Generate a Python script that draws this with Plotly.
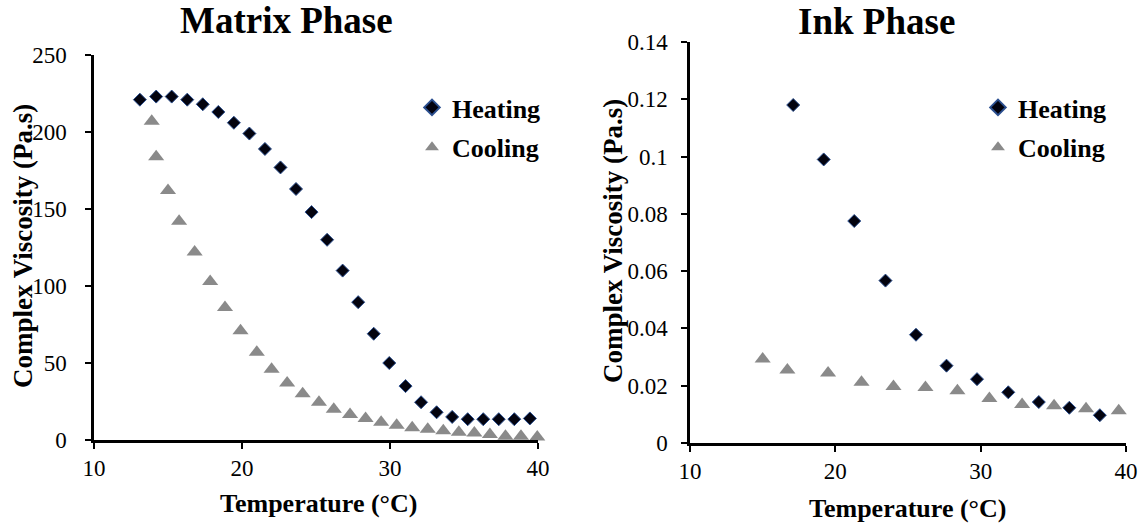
import plotly.graph_objects as go

# ---------------- data ----------------
matrix_heat_T = [13.1, 14.2, 15.25, 16.3, 17.35, 18.4, 19.45, 20.5, 21.55, 22.6, 23.65, 24.7, 25.75,
                 26.8, 27.85, 28.9, 29.95, 31.05, 32.1, 33.15, 34.2, 35.25, 36.3, 37.35, 38.4, 39.45]
matrix_heat_V = [221, 223, 223, 221, 218, 213, 206, 199, 189, 177, 163, 148, 130,
                 110, 89.5, 69, 50, 35, 24.5, 18, 15, 13.5, 13.5, 13.5, 13.5, 14]

matrix_cool_T = [13.9, 14.2, 15.0, 15.75, 16.8, 17.85, 18.85, 19.9, 21.0, 22.0, 23.05, 24.1, 25.2, 26.2,
                 27.3, 28.35, 29.4, 30.45, 31.5, 32.55, 33.6, 34.65, 35.7, 36.75, 37.8, 38.85, 39.95]
matrix_cool_V = [207, 184, 162, 142, 122, 103, 86, 71, 57, 46, 37, 30, 24.5, 20,
                 16.5, 14, 11.5, 9.5, 8, 7, 6, 5, 4.5, 3.5, 2.5, 2.5, 2]

ink_heat_T = [17.1, 19.2, 21.3, 23.45, 25.55, 27.65, 29.75, 31.9, 34.0, 36.1, 38.2]
ink_heat_V = [0.118, 0.099, 0.0775, 0.0567, 0.0378, 0.027, 0.0223, 0.0177, 0.0143, 0.0123, 0.0097]

ink_cool_T = [15.0, 16.7, 19.5, 21.8, 24.0, 26.2, 28.4, 30.6, 32.85, 35.05, 37.25, 39.5]
ink_cool_V = [0.0293, 0.0255, 0.0244, 0.0212, 0.0197, 0.0194, 0.0182, 0.0155, 0.0134, 0.013, 0.012, 0.0113]

series_names = ["Heating", "Cooling"]
titles = ["Matrix Phase", "Ink Phase"]
x_title = "Temperature (°C)"
y_title = "Complex Viscosity (Pa.s)"

# ---------------- style ----------------
FONT = "Liberation Serif"
DIAMOND = dict(symbol="diamond", size=10, color="#03030f", line=dict(color="#2b4f8f", width=1))
TRIANGLE = dict(symbol="triangle-up", size=14, color="#8a8a8a", line=dict(width=0))

fig = go.Figure()

fig.add_trace(go.Scatter(x=matrix_heat_T, y=matrix_heat_V, mode="markers", name="<b>" + series_names[0] + "</b>",
                         marker=DIAMOND, xaxis="x", yaxis="y", legend="legend",
                         legendgroup="a", cliponaxis=False))
fig.add_trace(go.Scatter(x=matrix_cool_T, y=matrix_cool_V, mode="markers", name="<b>" + series_names[1] + "</b>",
                         marker=TRIANGLE, xaxis="x", yaxis="y", legend="legend",
                         legendgroup="b", cliponaxis=False))
fig.add_trace(go.Scatter(x=ink_heat_T, y=ink_heat_V, mode="markers", name="<b>" + series_names[0] + "</b>",
                         marker=DIAMOND, xaxis="x2", yaxis="y2", legend="legend2",
                         legendgroup="c", cliponaxis=False))
fig.add_trace(go.Scatter(x=ink_cool_T, y=ink_cool_V, mode="markers", name="<b>" + series_names[1] + "</b>",
                         marker=TRIANGLE, xaxis="x2", yaxis="y2", legend="legend2",
                         legendgroup="d", cliponaxis=False))

W, H = 1146, 523


def px_x(p):
    return p / W


def px_y(p):
    return (H - p) / H


axis_common = dict(showline=True, linecolor="black", linewidth=2.5, ticks="outside",
                   ticklen=6, tickwidth=2, tickcolor="black", showgrid=False, zeroline=False,
                   automargin=False,
                   tickfont=dict(family=FONT, size=23, color="black"))

xaxis_common = dict(ticklabelstandoff=0, **axis_common)

legend_common = dict(font=dict(family=FONT, size=26, color="black"), bgcolor="rgba(0,0,0,0)",
                     tracegroupgap=3, xanchor="left", yanchor="top", itemsizing="constant")


def text_ann(text, x, y, size, angle=0):
    return dict(text="<b>" + text + "</b>", x=px_x(x), y=px_y(y), xref="paper", yref="paper",
                showarrow=False, xanchor="center", yanchor="middle", textangle=angle,
                font=dict(family=FONT, size=size, color="black"))


fig.update_layout(
    width=W, height=H, margin=dict(l=0, r=0, t=0, b=0),
    paper_bgcolor="white", plot_bgcolor="white",
    xaxis=dict(domain=[px_x(94), px_x(538)], range=[10, 40], dtick=10, anchor="y", **xaxis_common),
    yaxis=dict(domain=[px_y(440), px_y(55)], range=[0, 250], dtick=50, anchor="x",
               ticklabelstandoff=14, **axis_common),
    xaxis2=dict(domain=[px_x(690), px_x(1126)], range=[10, 40], dtick=10, anchor="y2", **xaxis_common),
    yaxis2=dict(domain=[px_y(443), px_y(42)], range=[0, 0.14], dtick=0.02, anchor="x2",
                ticklabelstandoff=9, **axis_common),
    legend=dict(x=px_x(412), y=px_y(84), **legend_common),
    legend2=dict(x=px_x(978), y=px_y(84), **legend_common),
    showlegend=True,
    annotations=[
        text_ann(titles[0], 286, 21, 37),
        text_ann(titles[1], 876, 22, 37),
        text_ann(x_title, 318, 503, 26),
        text_ann(x_title, 907, 508, 26),
        text_ann(y_title, 23, 246, 27, -90),
        text_ann(y_title, 613, 241, 27, -90),
    ],
)

fig.write_html("out.html")
